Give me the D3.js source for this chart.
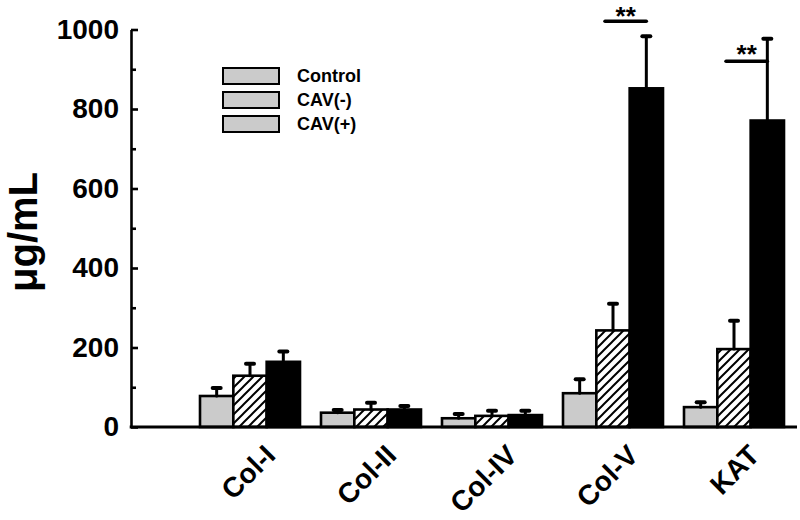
<!DOCTYPE html>
<html><head><meta charset="utf-8">
<script src="https://cdn.jsdelivr.net/npm/d3@7"></script>
<style>body{margin:0;background:#fff}svg{display:block}text{font-family:Arial,"Liberation Sans",sans-serif;font-weight:bold}</style>
</head><body><svg id="c" width="800" height="520"></svg>
<script>
const categories = ["Col-I","Col-II","Col-IV","Col-V","KAT"];
const seriesNames = ["Control","CAV(-)","CAV(+)"];
const controlVals = [78, 36, 22, 85, 50];
const controlErr  = [20, 7, 11, 35, 12];
const cavNegVals  = [129, 44, 28, 243, 196];
const cavNegErr   = [30, 17, 13, 67, 71];
const cavPosVals  = [164, 44, 30, 852, 771];
const cavPosErr   = [26, 9, 11, 131, 206];
const yTicks = [0, 200, 400, 600, 800, 1000];
const yMinorTicks = [100, 300, 500, 700, 900];
const sigCats = ["Col-V", "KAT"];
const sigLevels = [1021, 920];
const sigLabels = ["**", "**"];

const values = [controlVals, cavNegVals, cavPosVals];
const errs = [controlErr, cavNegErr, cavPosErr];

const svg = d3.select("#c");
const axisX = 131, axisRight = 797;
const y = d3.scaleLinear().domain([0, 1000]).range([427, 29.5]);
const x = d3.scaleBand().domain(categories).range([189.5, 794.5])
  .paddingInner(21/121).paddingOuter(21/242);
const xs = d3.scaleBand().domain(seriesNames).range([0, x.bandwidth()]);

const defs = svg.append("defs");
const pat = defs.append("pattern").attr("id","hatch").attr("patternUnits","userSpaceOnUse")
  .attr("width",9).attr("height",9);
pat.append("rect").attr("width",9).attr("height",9).attr("fill","#fff");
pat.append("path").attr("d","M-1,1 l2,-2 M0,9 l9,-9 M8,10 l2,-2")
  .attr("stroke","#000").attr("stroke-width",2);

const fills = ["#cbcbcb", "url(#hatch)", "#000"];

seriesNames.forEach((s, si) => {
  const g = svg.append("g");
  g.selectAll("rect").data(categories).join("rect")
    .attr("x", c => x(c) + xs(s))
    .attr("y", (c, i) => y(values[si][i]))
    .attr("width", xs.bandwidth())
    .attr("height", (c, i) => y(0) - y(values[si][i]))
    .attr("fill", fills[si]).attr("stroke", "#000").attr("stroke-width", 2.6);
  const eg = svg.append("g").attr("stroke","#000").attr("stroke-linecap","round");
  categories.forEach((c, i) => {
    const cx = x(c) + xs(s) + xs.bandwidth()/2;
    const top = y(values[si][i] + errs[si][i]);
    eg.append("line").attr("x1",cx).attr("x2",cx).attr("y1",y(values[si][i])).attr("y2",top).attr("stroke-width",3);
    eg.append("line").attr("x1",cx-4).attr("x2",cx+4).attr("y1",top).attr("y2",top).attr("stroke-width",4);
  });
});

const ya = d3.axisLeft(y).tickValues(yTicks).tickFormat(d3.format("d"))
  .tickSizeInner(-7).tickSizeOuter(0).tickPadding(12);
const yg = svg.append("g").attr("transform",`translate(${axisX},0)`).call(ya);
yg.select(".domain").attr("stroke-width",2.6);
yg.selectAll(".tick line").attr("stroke-width",2.6);
yg.selectAll(".tick text").attr("font-size",28).attr("font-family","Arial, 'Liberation Sans', sans-serif").attr("font-weight","bold").attr("fill","#000");
const ym = d3.axisLeft(y).tickValues(yMinorTicks).tickSizeInner(-5).tickSizeOuter(0).tickFormat("");
const ymg = svg.append("g").attr("transform",`translate(${axisX},0)`).call(ym);
ymg.select(".domain").remove();
ymg.selectAll(".tick line").attr("stroke-width",2.6);

svg.append("line").attr("x1",axisX-1.3).attr("x2",axisRight).attr("y1",y(0)).attr("y2",y(0))
  .attr("stroke","#000").attr("stroke-width",3);
svg.append("g").selectAll("g").data(categories).join("g")
  .attr("transform", c => `translate(${x(c) + x.bandwidth()/2 + 27},${y(0) + 30})`)
  .append("text").style("transform","rotate(-45deg)").style("transform-origin","0px 0px")
  .attr("text-anchor","end").attr("font-size",28).attr("fill","#000").text(c => c);

svg.append("text").attr("transform","translate(37,232) rotate(-90)")
  .attr("text-anchor","middle").attr("font-size",40).text("μg/mL");

const lg = svg.append("g");
seriesNames.forEach((s, i) => {
  lg.append("rect").attr("x",223).attr("y",68 + i*24).attr("width",56).attr("height",16)
    .attr("fill","#cbcbcb").attr("stroke","#000").attr("stroke-width",2);
  lg.append("text").attr("x",297).attr("y",82 + i*24).attr("font-size",18).text(s);
});

sigCats.forEach((c, i) => {
  const blackC = x(c) + xs("CAV(+)") + xs.bandwidth()/2;
  const hatchC = x(c) + xs("CAV(-)") + xs.bandwidth()/2;
  const ly = y(sigLevels[i]);
  svg.append("line").attr("x1",hatchC-8).attr("x2",blackC).attr("y1",ly).attr("y2",ly)
    .attr("stroke","#000").attr("stroke-width",3.5).attr("stroke-linecap","round");
  const tx = (hatchC - 8 + blackC)/2;
  svg.append("text").attr("x",tx).attr("y",ly + (i===0 ? 4 : 2))
    .attr("text-anchor","middle").attr("font-size",26).text(sigLabels[i]);
});
</script></body></html>
